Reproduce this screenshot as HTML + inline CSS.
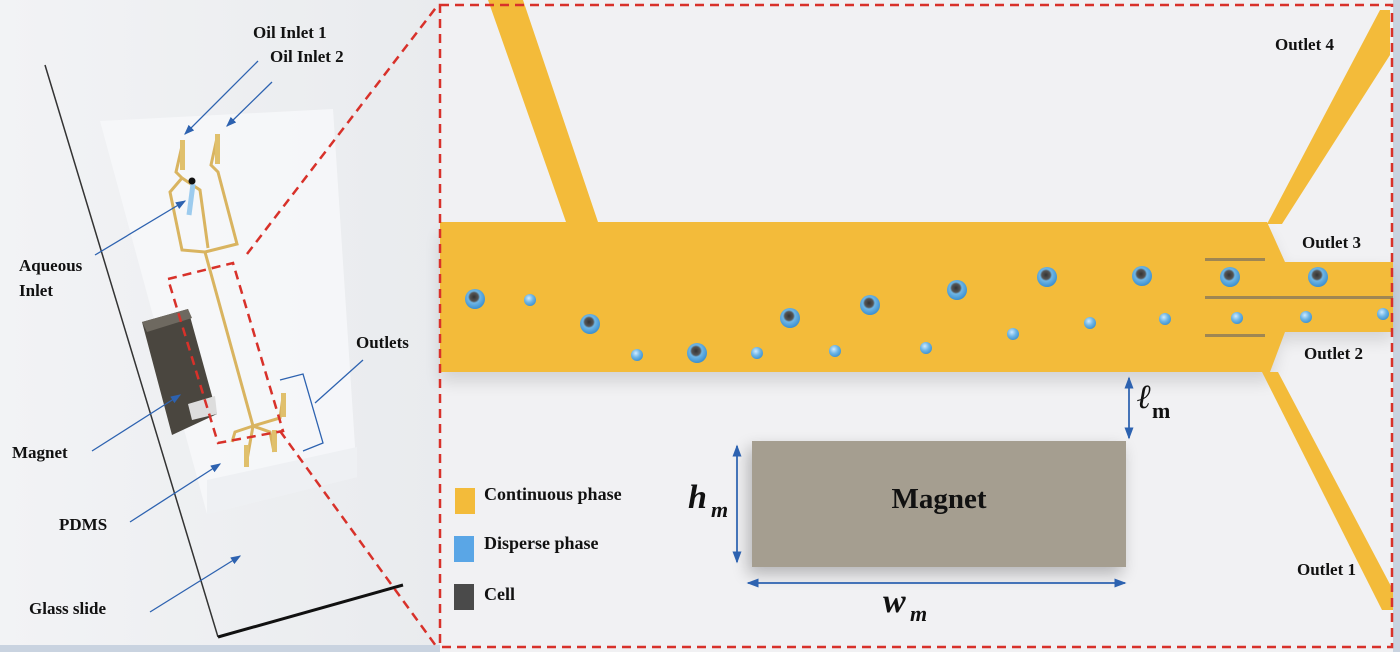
<!DOCTYPE html>
<html><head><style>
html,body{margin:0;padding:0;width:1400px;height:652px;overflow:hidden;background:#fff}
svg text{font-family:"Liberation Serif",serif;font-weight:bold;fill:#111}
</style></head><body>
<svg width="1400" height="652" viewBox="0 0 1400 652" xmlns="http://www.w3.org/2000/svg">
<defs>
<linearGradient id="lbg" x1="0" y1="0" x2="1" y2="0"><stop offset="0" stop-color="#f2f3f5"/><stop offset="1" stop-color="#e9ebee"/></linearGradient>
<radialGradient id="drop" cx="0.45" cy="0.4" r="0.6"><stop offset="0" stop-color="#333"/><stop offset="0.35" stop-color="#555"/><stop offset="0.5" stop-color="#6fb6e6"/><stop offset="1" stop-color="#3a8fd0"/></radialGradient>
<radialGradient id="sdrop" cx="0.4" cy="0.35" r="0.7"><stop offset="0" stop-color="#cfeaff"/><stop offset="0.5" stop-color="#6fb6e6"/><stop offset="1" stop-color="#3a8fd0"/></radialGradient>
<filter id="sh" x="-20%" y="-20%" width="140%" height="160%"><feGaussianBlur stdDeviation="8"/></filter>
<marker id="ar" markerWidth="8" markerHeight="8" refX="7" refY="4" orient="auto"><path d="M0,1 L8,4 L0,7z" fill="#2d62b0"/></marker>
</defs>
<!-- left panel -->
<rect x="0" y="0" width="440" height="652" fill="url(#lbg)"/>
<rect x="0" y="645" width="440" height="7" fill="#c9d3e0"/>
<polygon points="100,121 333,109 357,477 207,514" fill="#f6f7f9" opacity="0.95"/>
<polygon points="207,480 357,447 357,477 207,514" fill="#eef0f3"/>
<line x1="45" y1="65" x2="218" y2="637" stroke="#333" stroke-width="1.5"/>
<line x1="218" y1="637" x2="403" y2="585" stroke="#111" stroke-width="3"/>
<!-- device channels -->
<g stroke="#d9b460" stroke-width="3" fill="none">
<path d="M182,146 L176,172 L182,178"/>
<path d="M217,138 L211,165 L218,172 L237,244 L205,252"/>
<path d="M182,178 L170,192 L182,250 L205,252"/>
<path d="M182,178 L200,190 L208,248"/>
<path d="M205,252 L253,426 L247,460"/>
<path d="M253,426 L280,418 L283,397"/>
<path d="M253,426 L270,432 L274,452"/>
<path d="M253,426 L235,432 L232,442"/>
</g>
<g fill="#e0c06c"><rect x="180" y="140" width="5" height="30"/><rect x="215" y="134" width="5" height="30"/><rect x="244" y="445" width="5" height="22"/><rect x="281" y="393" width="5" height="24"/><rect x="272" y="430" width="5" height="22"/></g>
<line x1="193" y1="184" x2="189" y2="215" stroke="#9ccbee" stroke-width="5"/>
<circle cx="192" cy="181" r="3.5" fill="#111"/>
<!-- magnet 3D -->
<polygon points="142,322 188,309 217,414 172,435" fill="#4a463f"/>
<polygon points="142,322 188,309 192,318 147,332" fill="#6e6960"/>
<polygon points="188,404 215,396 217,414 192,420" fill="#ddd"/>
<!-- red dashed left -->
<g stroke="#d8312a" stroke-width="2.5" stroke-dasharray="9,6" fill="none">
<polyline points="168,279 233,263 283,431 218,443 168,279"/>
<line x1="247" y1="254" x2="438" y2="5"/>
<line x1="280" y1="431" x2="436" y2="646"/>
</g>
<!-- left arrows -->
<g stroke="#2d62b0" stroke-width="1.3" fill="none" marker-end="url(#ar)">
<line x1="258" y1="61" x2="185" y2="134"/>
<line x1="272" y1="82" x2="227" y2="126"/>
<line x1="95" y1="255" x2="185" y2="201"/>
<line x1="92" y1="451" x2="180" y2="395"/>
<line x1="130" y1="522" x2="220" y2="464"/>
<line x1="150" y1="612" x2="240" y2="556"/>
</g>
<g stroke="#2d62b0" stroke-width="1.3" fill="none">
<polyline points="280,380 303,374 323,443 303,451"/>
<line x1="315" y1="403" x2="363" y2="360"/>
</g>
<text x="253" y="38" font-size="17">Oil Inlet 1</text>
<text x="270" y="62" font-size="17">Oil Inlet 2</text>
<text x="19" y="271" font-size="17">Aqueous</text>
<text x="19" y="296" font-size="17">Inlet</text>
<text x="356" y="348" font-size="17">Outlets</text>
<text x="12" y="458" font-size="17">Magnet</text>
<text x="59" y="530" font-size="17">PDMS</text>
<text x="29" y="614" font-size="17">Glass slide</text>
<!-- right panel -->
<rect x="440" y="0" width="960" height="652" fill="#f1f1f3"/>
<rect x="1393" y="0" width="7" height="652" fill="#c9d3e0"/>
<polygon points="440,226 1267,226 1282,262 1393,262 1393,332 1280,332 1270,374 440,374" fill="#000" opacity="0.12" filter="url(#sh)" transform="translate(0,8)"/>
<g fill="#f3bb3a">
<polygon points="488,0 523,0 598,222 566,222"/>
<polygon points="1267,224 1380,10 1390,10 1390,55 1282,224"/>
<polygon points="1262,372 1278,372 1393,590 1393,610 1382,610"/>
<polygon points="440,222 1267,222 1285,262 1393,262 1393,332 1285,332 1270,372 440,372"/>
</g>
<g fill="#8a7a5a" opacity="0.8">
<rect x="1205" y="258" width="60" height="3"/><rect x="1205" y="296" width="188" height="3"/><rect x="1205" y="334" width="60" height="3"/>
</g>
<g fill="url(#drop)">
<circle cx="475" cy="299" r="10"/><circle cx="590" cy="324" r="10"/><circle cx="697" cy="353" r="10"/><circle cx="790" cy="318" r="10"/><circle cx="870" cy="305" r="10"/><circle cx="957" cy="290" r="10"/><circle cx="1047" cy="277" r="10"/><circle cx="1142" cy="276" r="10"/><circle cx="1230" cy="277" r="10"/><circle cx="1318" cy="277" r="10"/>
</g>
<g fill="url(#sdrop)">
<circle cx="530" cy="300" r="6"/><circle cx="637" cy="355" r="6"/><circle cx="757" cy="353" r="6"/><circle cx="835" cy="351" r="6"/><circle cx="926" cy="348" r="6"/><circle cx="1013" cy="334" r="6"/><circle cx="1090" cy="323" r="6"/><circle cx="1165" cy="319" r="6"/><circle cx="1237" cy="318" r="6"/><circle cx="1306" cy="317" r="6"/><circle cx="1383" cy="314" r="6"/>
</g>
<rect x="752" y="442" width="374" height="126" fill="#000" opacity="0.25" filter="url(#sh)" transform="translate(-4,6)"/>
<rect x="752" y="441" width="374" height="126" fill="#a59e90"/>
<text x="939" y="508" font-size="29" text-anchor="middle">Magnet</text>
<g stroke="#2d62b0" stroke-width="1.5" marker-end="url(#ar)">
<line x1="737" y1="446" x2="737" y2="562"/>
<line x1="737" y1="562" x2="737" y2="446"/>
<line x1="748" y1="583" x2="1125" y2="583"/>
<line x1="1125" y1="583" x2="748" y2="583"/>
<line x1="1129" y1="378" x2="1129" y2="438"/>
<line x1="1129" y1="438" x2="1129" y2="378"/>
</g>
<text x="688" y="508" font-size="34" font-style="italic">h</text><text x="711" y="517" font-size="22" font-style="italic">m</text>
<text x="883" y="612" font-size="34" font-style="italic">w</text><text x="910" y="621" font-size="22" font-style="italic">m</text>
<text x="1137" y="408" font-size="34" font-style="italic">ℓ</text><text x="1152" y="418" font-size="22">m</text>
<rect x="455" y="488" width="20" height="26" fill="#f3bb3a"/>
<rect x="454" y="536" width="20" height="26" fill="#5aa6e6"/>
<rect x="454" y="584" width="20" height="26" fill="#4a4a4a"/>
<text x="484" y="500" font-size="18">Continuous phase</text>
<text x="484" y="549" font-size="18">Disperse phase</text>
<text x="484" y="600" font-size="18">Cell</text>
<text x="1275" y="50" font-size="17">Outlet 4</text>
<text x="1302" y="248" font-size="17">Outlet 3</text>
<text x="1304" y="359" font-size="17">Outlet 2</text>
<text x="1297" y="575" font-size="17">Outlet 1</text>
<rect x="440" y="5" width="952" height="642" fill="none" stroke="#d8312a" stroke-width="2.5" stroke-dasharray="9,6"/>
</svg>
</body></html>
